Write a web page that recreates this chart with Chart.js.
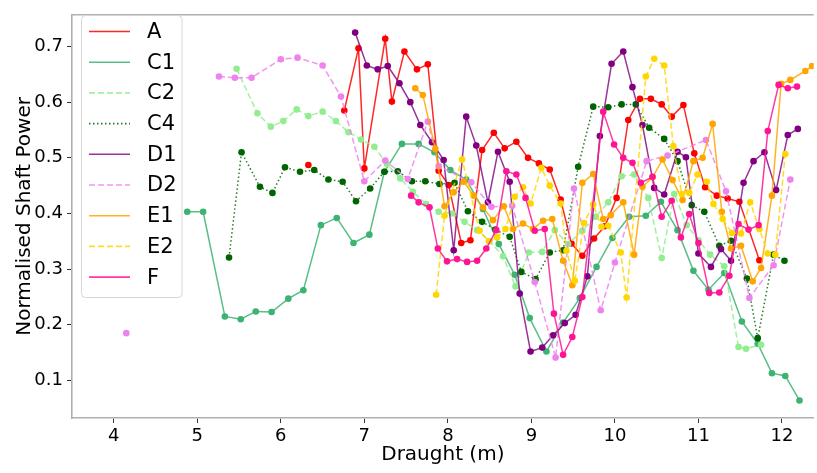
<!DOCTYPE html>
<html>
<head>
<meta charset="utf-8">
<script src="https://cdn.jsdelivr.net/npm/chart.js@4.4.1/dist/chart.umd.min.js"></script>
<style>
  html, body { margin: 0; padding: 0; background: #ffffff; }
  #wrap { width: 817px; height: 473px; }
</style>
</head>
<body>
<div id="wrap"><canvas id="chart" width="817" height="473"></canvas></div>
<script>
// Draught (m) and normalised shaft power per vessel condition
const seriesNames = ['A', 'C1', 'C2', 'C4', 'D1', 'D2', 'E1', 'E2', 'F'];

const draughtA = [6.33, 6.5, 6.76, 6.93, 7.00, 7.25, 7.33, 7.48, 7.63, 7.76, 7.89, 8.01, 8.16, 8.27, 8.41, 8.55, 8.68, 8.82, 8.96, 9.09, 9.22, 9.35, 9.48, 9.61, 9.75, 9.88, 10.02, 10.16, 10.30, 10.43, 10.56, 10.68, 10.82, 10.95, 11.08, 11.22, 11.35, 11.49, 11.73];
const powerA = [0.487, null, 0.585, 0.697, 0.481, 0.714, 0.601, 0.691, 0.659, 0.668, 0.477, 0.451, 0.347, 0.352, 0.514, 0.545, 0.517, 0.529, 0.500, 0.490, 0.479, 0.425, 0.346, 0.324, 0.355, 0.377, 0.428, 0.568, 0.606, 0.606, 0.596, 0.574, 0.595, 0.508, 0.447, 0.432, 0.427, 0.421, 0.316];

const draughtC1 = [4.88, 5.07, 5.33, 5.52, 5.70, 5.89, 6.09, 6.27, 6.48, 6.67, 6.87, 7.06, 7.24, 7.45, 7.65, 7.84, 8.03, 8.22, 8.42, 8.61, 8.80, 8.98, 9.18, 9.38, 9.58, 9.78, 9.97, 10.17, 10.37, 10.55, 10.75, 10.94, 11.12, 11.31, 11.52, 11.71, 11.88, 12.04, 12.21];
const powerC1 = [0.403, 0.403, 0.215, 0.210, 0.224, 0.223, 0.247, 0.262, 0.379, 0.392, 0.347, 0.362, 0.475, 0.525, 0.525, 0.510, 0.478, 0.461, 0.408, 0.345, 0.290, 0.212, 0.152, 0.204, 0.248, 0.304, 0.356, 0.394, 0.396, 0.421, 0.370, 0.297, 0.263, 0.293, 0.206, 0.166, 0.113, 0.108, 0.064];

const draughtC2 = [5.47, 5.72, 5.88, 6.03, 6.19, 6.33, 6.50, 6.66, 6.81, 6.96, 7.12, 7.27, 7.43, 7.58, 7.74, 7.89, 8.05, 8.20, 8.35, 8.50, 8.66, 8.81, 8.97, 9.13, 9.28, 9.44, 9.61, 9.77, 9.92, 10.08, 10.23, 10.40, 10.56, 10.71, 10.86, 11.00, 11.14, 11.31, 11.48, 11.57, 11.75];
const powerC2 = [0.660, 0.580, 0.556, 0.566, 0.587, 0.575, 0.583, 0.566, 0.546, 0.533, 0.520, 0.489, 0.463, 0.439, 0.417, 0.403, 0.400, 0.385, 0.370, 0.350, 0.323, 0.269, 0.330, 0.331, 0.370, 0.345, 0.369, 0.394, 0.420, 0.467, 0.470, 0.428, 0.320, 0.435, 0.379, 0.352, 0.326, 0.305, 0.160, 0.157, 0.164];

const draughtC4 = [5.38, 5.53, 5.75, 5.90, 6.05, 6.23, 6.40, 6.57, 6.74, 6.90, 7.07, 7.24, 7.40, 7.57, 7.73, 7.90, 8.08, 8.24, 8.41, 8.57, 8.74, 8.88, 9.05, 9.22, 9.38, 9.56, 9.74, 9.92, 10.08, 10.25, 10.41, 10.59, 10.75, 10.92, 11.07, 11.25, 11.39, 11.58, 11.71, 11.90, 12.03];
const powerC4 = [0.321, 0.510, 0.448, 0.437, 0.483, 0.475, 0.478, 0.461, 0.457, 0.422, 0.445, 0.475, 0.476, 0.458, 0.458, 0.453, 0.455, 0.404, 0.385, 0.371, 0.358, 0.295, 0.282, 0.330, 0.334, 0.484, 0.592, 0.591, 0.596, 0.596, 0.554, 0.534, 0.494, 0.415, 0.403, 0.342, 0.351, 0.283, 0.176, 0.326, 0.315];

const draughtD1 = [6.89, 7.03, 7.16, 7.28, 7.42, 7.55, 7.67, 7.81, 7.95, 8.07, 8.22, 8.34, 8.48, 8.60, 8.74, 8.86, 8.99, 9.13, 9.26, 9.40, 9.53, 9.67, 9.82, 9.96, 10.10, 10.21, 10.33, 10.47, 10.59, 10.75, 10.85, 11.00, 11.15, 11.27, 11.39, 11.54, 11.66, 11.79, 11.93, 12.07, 12.19];
const powerD1 = [0.725, 0.666, 0.659, 0.665, 0.634, 0.600, 0.559, 0.528, 0.496, 0.334, 0.574, 0.522, 0.420, 0.511, 0.457, 0.256, 0.152, 0.159, 0.181, 0.203, 0.218, 0.287, 0.539, 0.669, 0.691, 0.627, 0.559, 0.446, 0.434, 0.511, 0.501, 0.328, 0.304, 0.336, 0.315, 0.455, 0.494, 0.510, 0.442, 0.541, 0.552];

const draughtD2 = [4.15, 4.7, 5.26, 5.45, 5.65, 6.00, 6.20, 6.50, 6.72, 7.00, 7.25, 7.52, 7.76, 7.89, 8.28, 8.52, 8.77, 9.04, 9.29, 9.51, 9.83, 10.00, 10.38, 10.63, 11.09, 11.33, 11.61, 11.90, 12.10];
const powerD2 = [0.185, null, 0.646, 0.644, 0.644, 0.677, 0.680, 0.666, 0.610, 0.458, 0.495, 0.462, 0.565, 0.485, 0.456, 0.412, 0.414, 0.277, 0.141, 0.445, 0.226, 0.312, 0.494, 0.504, 0.532, 0.440, 0.248, 0.307, 0.461];

const draughtE1 = [7.61, 7.70, 7.85, 7.96, 8.07, 8.19, 8.31, 8.42, 8.54, 8.67, 8.78, 8.90, 9.02, 9.14, 9.25, 9.38, 9.49, 9.61, 9.74, 9.86, 9.95, 10.10, 10.23, 10.33, 10.45, 10.57, 10.69, 10.81, 10.94, 11.05, 11.17, 11.28, 11.39, 11.51, 11.65, 11.75, 11.88, 11.99, 12.10, 12.28, 12.36];
const powerE1 = [0.625, 0.613, 0.516, 0.413, 0.438, 0.457, 0.432, 0.411, 0.388, 0.413, 0.372, 0.382, 0.372, 0.387, 0.390, 0.315, 0.271, 0.455, 0.471, 0.390, 0.397, 0.420, 0.326, 0.448, 0.465, 0.497, 0.460, 0.424, 0.494, 0.500, 0.561, 0.403, 0.337, 0.342, 0.278, 0.302, 0.432, 0.633, 0.640, 0.656, 0.665];

const draughtE2 = [7.86, 7.96, 8.17, 8.38, 8.49, 8.59, 8.69, 8.80, 8.90, 8.99, 9.12, 9.22, 9.35, 9.42, 9.52, 9.63, 9.74, 9.84, 9.92, 10.07, 10.14, 10.37, 10.47, 10.59, 10.70, 10.80, 10.89, 10.99, 11.10, 11.18, 11.29, 11.40, 11.51, 11.62, 11.73, 11.83, 11.92, 12.04];
const powerE2 = [0.254, 0.396, 0.497, 0.369, 0.350, 0.357, 0.372, 0.430, 0.447, 0.418, 0.482, 0.450, 0.418, 0.333, 0.279, 0.383, 0.416, 0.376, 0.378, 0.330, 0.249, 0.646, 0.678, 0.666, 0.521, 0.435, 0.437, 0.470, 0.457, 0.417, 0.390, 0.365, 0.364, 0.420, 0.372, 0.328, 0.326, 0.507];

const draughtF = [7.56, 7.65, 7.78, 7.88, 7.99, 8.11, 8.23, 8.35, 8.46, 8.58, 8.70, 8.82, 8.93, 9.04, 9.16, 9.27, 9.38, 9.49, 9.61, 9.86, 9.99, 10.10, 10.21, 10.31, 10.45, 10.56, 10.68, 10.79, 10.89, 11.00, 11.13, 11.25, 11.37, 11.48, 11.60, 11.72, 11.83, 11.96, 12.07, 12.18];
const powerF = [0.432, 0.420, 0.411, 0.337, 0.314, 0.318, 0.313, 0.315, 0.337, 0.370, 0.476, 0.470, 0.428, 0.369, 0.372, 0.220, 0.146, 0.178, 0.250, 0.583, 0.524, 0.500, 0.491, 0.455, 0.466, 0.394, 0.423, 0.357, 0.399, 0.347, 0.257, 0.258, 0.288, 0.381, 0.371, 0.379, 0.548, 0.631, 0.625, 0.628];

const xTickValues = [4, 5, 6, 7, 8, 9, 10, 11, 12];
const yTickValues = [0.1, 0.2, 0.3, 0.4, 0.5, 0.6, 0.7];

const seriesX = [draughtA, draughtC1, draughtC2, draughtC4, draughtD1, draughtD2, draughtE1, draughtE2, draughtF];
const seriesY = [powerA, powerC1, powerC2, powerC4, powerD1, powerD2, powerE1, powerE2, powerF];

// marker colours and slightly translucent line colours
const colours = ['#ff0000', '#3cb371', '#90ee90', '#006400', '#800080', '#ee82ee', '#ffa500', '#ffd700', '#ff1493'];
const lineColours = ['rgba(255,0,0,0.85)', 'rgba(60,179,113,0.85)', 'rgba(144,238,144,0.85)', 'rgba(0,100,0,0.85)',
                     'rgba(128,0,128,0.8)', 'rgba(238,130,238,0.85)', 'rgba(255,165,0,0.85)', 'rgba(255,215,0,0.85)', 'rgba(255,20,147,0.85)'];
const dashes = [[], [], [6, 3], [1.5, 2.5], [], [6, 3], [], [6, 3], []];

const FONT = 'DejaVu Sans';

const datasets = seriesNames.map((name, i) => ({
  label: name,
  data: seriesX[i].map((x, k) => ({ x: x, y: seriesY[i][k] })),
  borderColor: lineColours[i],
  backgroundColor: colours[i],
  pointBackgroundColor: colours[i],
  pointBorderColor: colours[i],
  borderWidth: 1.5,
  borderDash: dashes[i],
  pointRadius: 3.3,
  pointBorderWidth: 0,
  pointHoverRadius: 3.3,
  tension: 0,
  spanGaps: false,
  fill: false,
  order: seriesNames.length - i
}));

// Legend box inside the top-left corner, plus the top frame line
const framePlugin = {
  id: 'frameAndLegend',
  afterDraw(chart) {
    const ctx = chart.ctx;
    const area = chart.chartArea;
    ctx.save();
    ctx.strokeStyle = '#b0b0b0';
    ctx.lineWidth = 1.6;
    ctx.beginPath();
    ctx.moveTo(area.left, area.top);
    ctx.lineTo(area.right, area.top);
    ctx.stroke();

    const bx = 81.5, by = 15.5, bw = 100.5, bh = 282, r = 4;
    ctx.fillStyle = 'rgba(255,255,255,0.85)';
    ctx.strokeStyle = '#d6d6d6';
    ctx.lineWidth = 1;
    ctx.beginPath();
    ctx.moveTo(bx + r, by);
    ctx.lineTo(bx + bw - r, by);
    ctx.arcTo(bx + bw, by, bx + bw, by + r, r);
    ctx.lineTo(bx + bw, by + bh - r);
    ctx.arcTo(bx + bw, by + bh, bx + bw - r, by + bh, r);
    ctx.lineTo(bx + r, by + bh);
    ctx.arcTo(bx, by + bh, bx, by + bh - r, r);
    ctx.lineTo(bx, by + r);
    ctx.arcTo(bx, by, bx + r, by, r);
    ctx.closePath();
    ctx.fill();
    ctx.stroke();

    ctx.font = '21px "' + FONT + '"';
    ctx.textBaseline = 'middle';
    ctx.textAlign = 'left';
    chart.data.datasets.forEach((ds, i) => {
      const cy = 31.5 + i * 30.7;
      ctx.strokeStyle = ds.borderColor;
      ctx.lineWidth = 1.6;
      ctx.setLineDash(ds.borderDash || []);
      ctx.beginPath();
      ctx.moveTo(89, cy);
      ctx.lineTo(130, cy);
      ctx.stroke();
      ctx.setLineDash([]);
      ctx.fillStyle = '#000000';
      ctx.fillText(ds.label, 147, cy + 1);
    });
    ctx.restore();
  }
};

new Chart(document.getElementById('chart'), {
  type: 'line',
  data: { datasets: datasets },
  plugins: [framePlugin],
  options: {
    responsive: false,
    animation: false,
    devicePixelRatio: 1,
    layout: { padding: { top: 5, right: 0, bottom: 0, left: 0 } },
    plugins: { legend: { display: false }, tooltip: { enabled: false } },
    scales: {
      x: {
        type: 'linear',
        min: 3.5,
        max: 12.38,
        afterBuildTicks(scale) { scale.ticks = xTickValues.map(v => ({ value: v })); },
        afterFit(scale) { scale.height = 55; },
        grid: { drawOnChartArea: false, drawTicks: true, tickLength: 5, tickColor: '#333333', tickWidth: 1 },
        border: { display: true, color: '#b0b0b0', width: 1.6 },
        ticks: { color: '#000000', padding: 3, font: { family: FONT, size: 18 }, maxRotation: 0, autoSkip: false,
                 callback: v => String(v) },
        title: { display: true, text: 'Draught (m)', color: '#000000', font: { family: FONT, size: 20 }, padding: { top: 0, bottom: 6 } }
      },
      y: {
        type: 'linear',
        min: 0.0325,
        max: 0.757,
        afterBuildTicks(scale) { scale.ticks = yTickValues.map(v => ({ value: v })); },
        afterFit(scale) { scale.width = 72; },
        grid: { drawOnChartArea: false, drawTicks: true, tickLength: 5, tickColor: '#333333', tickWidth: 1 },
        border: { display: true, color: '#b0b0b0', width: 1.6 },
        ticks: { color: '#000000', padding: 4, font: { family: FONT, size: 18 }, autoSkip: false,
                 callback: v => v.toFixed(1) },
        title: { display: true, text: 'Normalised Shaft Power', color: '#000000', font: { family: FONT, size: 20 }, padding: { top: 13, bottom: 0 } }
      }
    }
  }
});
</script>
</body>
</html>
